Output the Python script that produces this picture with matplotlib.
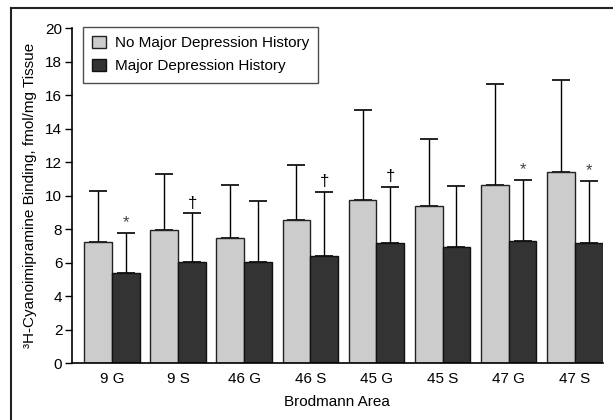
#!/usr/bin/env python

# Grouped bars of 3H-cyanoimipramine binding by Brodmann area

import numpy
import matplotlib
matplotlib.use('Agg')
import matplotlib.pyplot as plt
from matplotlib.lines import Line2D

plt.rcParams['font.family'] = ['Liberation Sans Narrow', 'Liberation Sans', 'DejaVu Sans']
plt.rcParams['font.size'] = 10

areas = ['9 G', '9 S', '46 G', '46 S', '45 G', '45 S', '47 G', '47 S']
no_mdd = [7.22, 7.93, 7.50, 8.53, 9.77, 9.37, 10.65, 11.45]
no_mdd_sd = [3.07, 3.37, 3.15, 3.30, 5.38, 4.00, 6.00, 5.48]
mdd = [5.38, 6.03, 6.05, 6.43, 7.20, 6.92, 7.29, 7.17]
mdd_sd = [2.42, 2.92, 3.65, 3.80, 3.35, 3.66, 3.66, 3.70]
marks = ['*', '\u2020', '', '\u2020', '\u2020', '', '*', '*']

fig = plt.figure(figsize=(6.13, 4.2), dpi=100, facecolor='white')
ax = fig.add_axes([0.1175, 0.135, 0.8655, 0.7976])

x = numpy.arange(len(areas))
w = 0.42
ax.bar(x - w/2, no_mdd, w, color='#cccccc', edgecolor='#222222', linewidth=1.0,
       label='No Major Depression History', zorder=2)
ax.bar(x + w/2, mdd, w, color='#333333', edgecolor='#111111', linewidth=1.0,
       label='Major Depression History', zorder=2)

# upper error bars only
ax.errorbar(x - w/2, no_mdd, yerr=[numpy.zeros(len(x)), no_mdd_sd], fmt='none',
            ecolor='black', elinewidth=1.0, capsize=6.8, capthick=1.2, zorder=1)
ax.errorbar(x + w/2, mdd, yerr=[numpy.zeros(len(x)), mdd_sd], fmt='none',
            ecolor='black', elinewidth=1.0, capsize=6.8, capthick=1.2, zorder=1)

# significance marks
for xi, m, v, s in zip(x, marks, mdd, mdd_sd):
    if not m:
        continue
    ax.annotate(m, (xi + w/2, v + s), xytext=(0, 2), textcoords='offset points',
                ha='center', va='bottom', fontsize=12,
                color='#444444' if m == '*' else 'black',
                family=['Liberation Sans', 'DejaVu Sans'])

ax.set_xlim(-0.605, 7.42)
ax.set_ylim(0, 20)
ax.set_yticks(range(0, 21, 2))
ax.set_xticks(x)
ax.set_xticklabels(areas, fontsize=11)
ax.tick_params(axis='y', labelsize=11, length=5, width=1, direction='out', pad=2)
ax.tick_params(axis='x', length=0, pad=6)
for side in ['top', 'right']:
    ax.spines[side].set_visible(False)
for side in ['left', 'bottom']:
    ax.spines[side].set_linewidth(1.2)

ax.set_xlabel('Brodmann Area', fontsize=11, labelpad=7)
ax.set_ylabel('\u00b3H-Cyanoimipramine Binding, fmol/mg Tissue', fontsize=11, labelpad=6)

leg = ax.legend(loc='upper left', bbox_to_anchor=(0.02, 1.005), fontsize=11,
                frameon=True, fancybox=False, edgecolor='#222222',
                handlelength=0.9, handleheight=0.9, handletextpad=0.6,
                borderpad=0.6, labelspacing=0.55, borderaxespad=0)
leg.get_frame().set_linewidth(1.0)

# frame lines round the figure (top and left)
fig.add_artist(Line2D([10.5/613, 1.0], [1 - 7.5/420, 1 - 7.5/420],
                      transform=fig.transFigure, color='#222222', linewidth=1.5))
fig.add_artist(Line2D([10.5/613, 10.5/613], [0.0, 1 - 7.5/420],
                      transform=fig.transFigure, color='#222222', linewidth=1.5))

fig.savefig('out.png', dpi=100)
